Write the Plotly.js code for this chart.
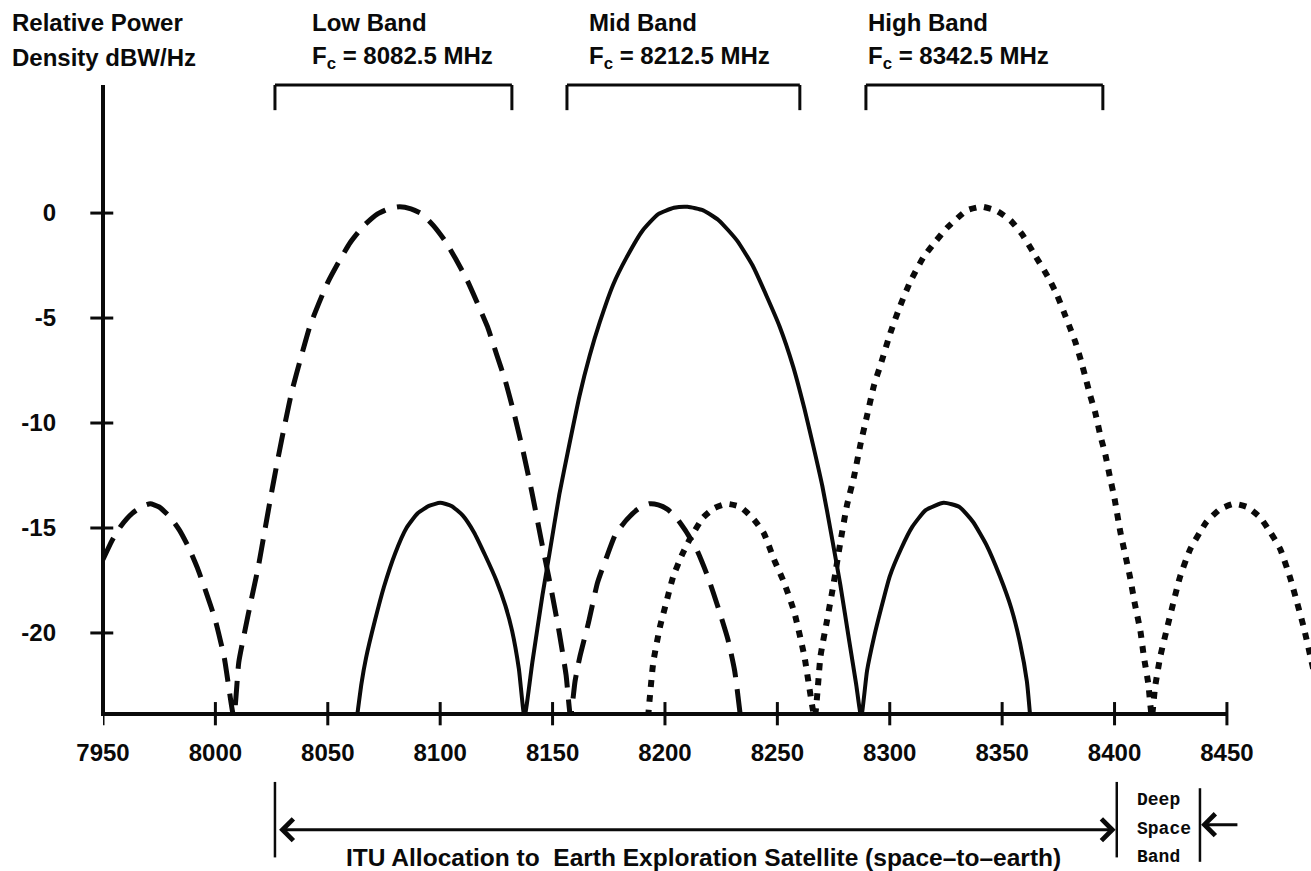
<!DOCTYPE html>
<html>
<head>
<meta charset="utf-8">
<script src="https://cdn.plot.ly/plotly-3.0.1.min.js"></script>
<style>
  html, body { margin: 0; padding: 0; background: #ffffff; }
  #chart { width: 1311px; height: 871px; }
</style>
</head>
<body>
<div id="chart"></div>
<script>
// ---------- data (frequency MHz, relative power dB) ----------
const lowBandFreq = [7950, 7954, 7958, 7963, 7968, 7971, 7975, 7980, 7984, 7988, 7992, 7996, 8000, 8004, 8008.2,
  8010.4, 8013.3, 8016, 8019, 8022, 8025, 8028, 8031, 8034, 8038, 8042, 8046, 8050, 8055, 8060, 8066, 8072, 8077, 8082,
  8087, 8092, 8097, 8102, 8107, 8112, 8117, 8121, 8125, 8129, 8133, 8137, 8141, 8145, 8149, 8153, 8156, 8158,
  8160, 8162, 8166, 8170, 8174, 8178, 8183, 8188, 8193, 8197, 8201, 8205, 8209, 8214, 8219, 8224, 8228, 8231, 8233.6];
const lowBandDb = [-16.5, -15.6, -14.9, -14.3, -13.95, -13.85, -14.0, -14.5, -15.1, -15.9, -16.9, -18.1, -19.4, -21.2, -24,
  -21.4, -19.8, -18.4, -16.9, -15.1, -13.3, -11.6, -10.0, -8.5, -6.9, -5.4, -4.3, -3.3, -2.3, -1.4, -0.6, -0.05, 0.2, 0.3,
  0.2, -0.05, -0.6, -1.3, -2.2, -3.2, -4.4, -5.4, -6.7, -8.0, -9.6, -11.4, -13.4, -15.6, -17.7, -20.0, -22.0, -24,
  -22.3, -21.2, -19.5, -17.6, -16.4, -15.3, -14.6, -14.1, -13.85, -13.9, -14.1, -14.5, -15.1, -16.0, -17.3, -18.9, -20.3, -21.8, -24];

const midBandFreq = [8063, 8065, 8067, 8071, 8075, 8080, 8085, 8090, 8095, 8100, 8105, 8110, 8115, 8120, 8125, 8129, 8132, 8135, 8137.5,
  8141, 8145.5, 8148.5, 8153, 8157.5, 8162, 8166.5, 8171, 8177, 8183, 8190, 8197, 8204, 8210, 8217, 8224, 8232, 8239, 8245, 8251,
  8257, 8262, 8266, 8270, 8274, 8278, 8282, 8285, 8287.3,
  8289.9, 8293, 8296, 8300, 8305, 8310, 8316, 8324, 8331, 8337, 8343, 8349, 8354, 8358, 8361, 8362.5];
const midBandDb = [-24, -22.4, -21.2, -19.4, -17.8, -16.2, -15.0, -14.3, -13.95, -13.8, -13.95, -14.4, -15.2, -16.3, -17.5, -18.7, -19.9, -21.7, -24,
  -21.4, -18.2, -16.3, -13.4, -11.0, -8.7, -6.8, -5.2, -3.4, -2.1, -0.84, -0.05, 0.25, 0.3, 0.13, -0.35, -1.3, -2.5, -3.9, -5.4,
  -7.3, -9.3, -11.1, -13.0, -15.3, -17.7, -20.4, -22.4, -24,
  -21.8, -20.2, -18.9, -17.3, -16.0, -14.95, -14.15, -13.8, -14.0, -14.7, -15.8, -17.3, -18.8, -20.5, -22.3, -24];

const highBandFreq = [8192.5, 8194.8, 8197.8, 8200.7, 8203.7, 8207.5, 8211.2, 8217, 8222, 8227.6, 8233.6, 8239.6, 8244, 8248.5, 8253, 8257.5, 8262, 8266.6,
  8269.2, 8272.1, 8275.1, 8278, 8281, 8284, 8287, 8290, 8293, 8296, 8300.3, 8304.7, 8309.2, 8315, 8320, 8325.5, 8334.4, 8341, 8347.7,
  8353.7, 8358.8, 8364, 8370.7, 8374.4, 8377.4, 8380.3, 8382.6, 8385, 8387, 8389.2, 8391.4, 8393.7, 8395.9, 8398, 8400, 8402.6,
  8404.8, 8407, 8409, 8411.5, 8413, 8415, 8416.6,
  8418, 8420.4, 8423.3, 8426.3, 8429.2, 8433.7, 8438, 8441, 8447, 8453, 8459, 8464.8, 8469.3, 8473.7, 8478.2, 8481.2, 8484.1, 8487.1, 8490];
const highBandDb = [-24, -21.4, -19.7, -18.5, -17.3, -16.3, -15.5, -14.5, -14.05, -13.85, -14.0, -14.6, -15.25, -16.5, -17.6, -19.0, -21.1, -24,
  -21.1, -19.4, -17.6, -15.7, -13.9, -12.6, -11.0, -9.6, -8.2, -7.2, -5.7, -4.4, -3.25, -2.1, -1.4, -0.7, 0.13, 0.3, 0.1,
  -0.35, -1.0, -1.9, -3.1, -3.9, -4.7, -5.5, -6.15, -7.0, -7.8, -8.7, -9.5, -10.6, -11.5, -12.6, -13.6, -15.2,
  -16.3, -17.4, -18.6, -19.9, -21.1, -22.4, -24,
  -22.6, -21.1, -19.8, -18.5, -17.3, -16.0, -15.2, -14.7, -14.1, -13.85, -14.0, -14.5, -15.2, -16.0, -17.4, -18.55, -19.7, -21.1, -22.5];

// axes
const xTickVals = [7950, 8000, 8050, 8100, 8150, 8200, 8250, 8300, 8350, 8400, 8450];
const xTickText = ['7950', '8000', '8050', '8100', '8150', '8200', '8250', '8300', '8350', '8400', '8450'];
const yTickVals = [0, -5, -10, -15, -20];
const yTickText = ['0', '-5', '-10', '-15', '-20'];
const xRange = [7950, 8487.4];
const yRange = [-23.86, 6.1];

// band brackets (MHz edges) and labels
const bandNames = ['Low Band', 'Mid Band', 'High Band'];
const bandCenters = ['8082.5', '8212.5', '8342.5'];
const bracketStart = [8026.5, 8156.4, 8289.4];
const bracketEnd = [8131.9, 8260.0, 8394.8];
const bandLabelX = [8042, 8165.3, 8289.4];

// allocation markers (MHz)
const ituStart = 8026.5;
const ituEnd = 8401;
const deepSpaceEnd = 8438;
const deepSpaceArrowTail = 8456;
const ituLabelX = 8217;
const deepSpaceLabelX = 8409;
const deepSpaceLines = ['Deep', 'Space', 'Band'];

// ---------- styling ----------
const FONT = 'Liberation Sans, Arial, Helvetica, sans-serif';
const MONO = 'Liberation Mono, Courier New, DejaVu Sans Mono, monospace';
const INK = '#0a0a0a';
const TXT = 24;

const traces = [
  { x: lowBandFreq, y: lowBandDb, mode: 'lines', name: 'Low Band',
    line: { color: INK, width: 5, dash: '24px,12px', shape: 'spline', smoothing: 0.5 } },
  { x: midBandFreq, y: midBandDb, mode: 'lines', name: 'Mid Band',
    line: { color: INK, width: 4, shape: 'spline', smoothing: 0.5 } },
  { x: highBandFreq, y: highBandDb, mode: 'lines', name: 'High Band',
    line: { color: INK, width: 6, dash: '7px,8px', shape: 'spline', smoothing: 0.5 } }
];

const shapes = [];
// y axis line
shapes.push({ type: 'line', xref: 'paper', yref: 'paper', x0: 0, x1: 0, y0: -0.003, y1: 1, line: { color: INK, width: 4 } });
// x axis line (ends at last tick)
shapes.push({ type: 'line', xref: 'x', yref: 'paper', x0: xTickVals[0], x1: xTickVals[xTickVals.length - 1], y0: 0, y1: 0, line: { color: INK, width: 4 } });
// crossing tick marks
yTickVals.forEach(v => shapes.push({ type: 'line', xref: 'paper', yref: 'y', x0: -0.0105, x1: 0.0085, y0: v, y1: v, line: { color: INK, width: 3 } }));
xTickVals.forEach(v => shapes.push({ type: 'line', xref: 'x', yref: 'paper', x0: v, x1: v, y0: -0.018, y1: 0.019, line: { color: INK, width: 3 } }));
// band brackets
for (let i = 0; i < bandNames.length; i++) {
  shapes.push({ type: 'line', xref: 'x', yref: 'paper', x0: bracketStart[i], x1: bracketEnd[i], y0: 1.0, y1: 1.0, line: { color: INK, width: 3 } });
  shapes.push({ type: 'line', xref: 'x', yref: 'paper', x0: bracketStart[i], x1: bracketStart[i], y0: 1.0, y1: 0.96, line: { color: INK, width: 3 } });
  shapes.push({ type: 'line', xref: 'x', yref: 'paper', x0: bracketEnd[i], x1: bracketEnd[i], y0: 1.0, y1: 0.96, line: { color: INK, width: 3 } });
}
// allocation vertical markers below the axis
shapes.push({ type: 'line', xref: 'x', yref: 'paper', x0: ituStart, x1: ituStart, y0: -0.108, y1: -0.228, line: { color: INK, width: 2.5 } });
shapes.push({ type: 'line', xref: 'x', yref: 'paper', x0: ituEnd, x1: ituEnd, y0: -0.108, y1: -0.228, line: { color: INK, width: 2.5 } });
shapes.push({ type: 'line', xref: 'x', yref: 'paper', x0: deepSpaceEnd, x1: deepSpaceEnd, y0: -0.118, y1: -0.235, line: { color: INK, width: 2.5 } });

const annotations = [];
const topLine1 = 1.1;
const topLine2 = 1.043;
annotations.push({ xref: 'paper', yref: 'paper', x: -0.077, y: topLine1, xanchor: 'left', yanchor: 'middle', showarrow: false,
  text: 'Relative Power', font: { family: FONT, size: TXT, color: INK, weight: 700 } });
annotations.push({ xref: 'paper', yref: 'paper', x: -0.077, y: topLine2, xanchor: 'left', yanchor: 'middle', showarrow: false,
  text: 'Density dBW/Hz', font: { family: FONT, size: TXT, color: INK, weight: 700 } });
for (let i = 0; i < bandNames.length; i++) {
  annotations.push({ xref: 'x', yref: 'paper', x: bandLabelX[i], y: topLine1, xanchor: 'left', yanchor: 'middle', showarrow: false,
    text: bandNames[i], font: { family: FONT, size: TXT, color: INK, weight: 700 } });
  annotations.push({ xref: 'x', yref: 'paper', x: bandLabelX[i], y: topLine2, xanchor: 'left', yanchor: 'middle', showarrow: false,
    text: 'F<sub>c</sub> = ' + bandCenters[i] + ' MHz', font: { family: FONT, size: TXT, color: INK, weight: 700 } });
}
// ITU double arrow
annotations.push({ xref: 'x', yref: 'paper', x: ituEnd - 0.5, y: -0.184, axref: 'x', ayref: 'pixel', ax: ituStart + 0.5, ay: 0,
  showarrow: true, text: ' ', arrowside: 'end+start', arrowhead: 4, startarrowhead: 4, arrowsize: 1.4, startarrowsize: 1.4,
  arrowwidth: 3, arrowcolor: INK });
// deep space arrow pointing left
annotations.push({ xref: 'x', yref: 'paper', x: deepSpaceEnd + 0.5, y: -0.176, axref: 'x', ayref: 'pixel', ax: deepSpaceArrowTail, ay: 0,
  showarrow: true, text: ' ', arrowhead: 4, arrowsize: 1.4, arrowwidth: 3, arrowcolor: INK });
annotations.push({ xref: 'x', yref: 'paper', x: ituLabelX, y: -0.228, xanchor: 'center', yanchor: 'middle', showarrow: false,
  text: 'ITU Allocation to&nbsp;&nbsp;Earth Exploration Satellite (space–to–earth)', font: { family: FONT, size: 24.5, color: INK, weight: 700 } });
const dsY = [-0.137, -0.183, -0.228];
deepSpaceLines.forEach((t, i) => annotations.push({ xref: 'x', yref: 'paper', x: deepSpaceLabelX, y: dsY[i], xanchor: 'left', yanchor: 'middle',
  showarrow: false, text: t, font: { family: MONO, size: 18, color: INK, weight: 700 } }));

const layout = {
  width: 1311, height: 871,
  margin: { l: 103, r: 0, t: 85, b: 157, pad: 0 },
  paper_bgcolor: '#ffffff', plot_bgcolor: '#ffffff',
  showlegend: false,
  xaxis: { range: xRange, showgrid: false, zeroline: false, showline: false, ticks: '',
    tickmode: 'array', tickvals: xTickVals, ticktext: xTickText, ticklabelstandoff: 22,
    tickfont: { family: FONT, size: TXT, color: INK, weight: 700 }, fixedrange: true },
  yaxis: { range: yRange, showgrid: false, zeroline: false, showline: false, ticks: '',
    tickmode: 'array', tickvals: yTickVals, ticktext: yTickText, ticklabelstandoff: 46,
    tickfont: { family: FONT, size: TXT, color: INK, weight: 700 }, fixedrange: true },
  shapes: shapes,
  annotations: annotations
};

Plotly.newPlot('chart', traces, layout, { staticPlot: true, displayModeBar: false });
</script>
</body>
</html>
